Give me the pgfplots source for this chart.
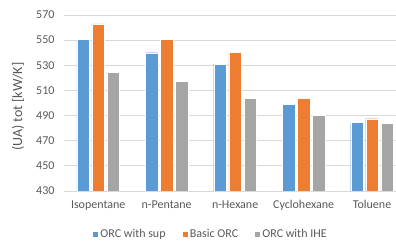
\documentclass[border=0pt]{standalone}
\usepackage{pgfplots}
\pgfplotsset{compat=1.18}
\usepackage{pgfplotstable}
\usepackage{fontspec}
\setmainfont{Carlito}
\definecolor{cblue}{HTML}{5B9BD5}
\definecolor{corange}{HTML}{ED7D31}
\definecolor{cgray}{HTML}{A5A5A5}
\definecolor{ctext}{HTML}{595959}
\definecolor{cgrid}{HTML}{D9D9D9}
\pgfplotstableread{
x sup basic ihe
0 550.5 563 524.5
1 540 550.5 517
2 531 540.5 503.5
3 499 503.5 490
4 484.5 487.5 484
}\data
\begin{document}
\begin{tikzpicture}
\begin{axis}[
  at={(0,0)}, anchor=south west,
  scale only axis, width=332bp, height=176bp,
  ybar, bar width=0.185,
  xmin=-0.5, xmax=4.35, ymin=430, ymax=570,
  xtick={0,1,2,3,4},
  xticklabels={Isopentane,n-Pentane,n-Hexane,Cyclohexane,Toluene},
  ytick={430,450,...,570},
  major tick length=0pt,
  axis line style={draw=none},
  ymajorgrids, grid style={cgrid, line width=0.75bp},
  /pgf/number format/assume math mode=true,
  tick label style={font=\fontsize{12bp}{14bp}\selectfont, text=ctext},
  yticklabel style={xshift=-6bp},
  xticklabel style={yshift=-6bp},
  ylabel={(UA) tot [kW/K]},
  ylabel style={at={(axis description cs:-0.1386,0.479)}, anchor=center, font=\fontsize{14bp}{16bp}\selectfont, text=ctext},
  legend columns=3,
  legend style={draw=none, fill=none, at={(rel axis cs:0.441,0)}, anchor=north, yshift=-34bp,
    font=\fontsize{12bp}{14bp}\selectfont, text=ctext,
    /tikz/every even column/.append style={column sep=14bp}},
  legend image code/.code={\fill[#1] (0bp,-3bp) rectangle (6bp,3bp);},
]
\addplot[fill=cblue, draw=white, line width=0.3pt, bar shift=-0.22] table[x=x,y=sup]{\data};
\addplot[fill=corange, draw=white, line width=0.3pt, bar shift=0] table[x=x,y=basic]{\data};
\addplot[fill=cgray, draw=white, line width=0.3pt, bar shift=0.22] table[x=x,y=ihe]{\data};
\legend{ORC with sup, Basic ORC, ORC with IHE}
\end{axis}
\pgfresetboundingbox
\useasboundingbox (-64bp,-53bp) rectangle (332bp,191bp);
\end{tikzpicture}
\end{document}
